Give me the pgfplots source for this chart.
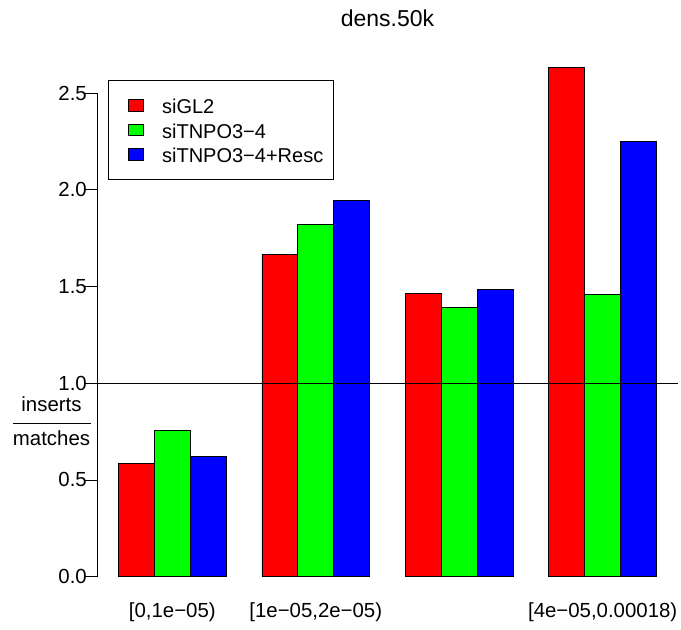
\documentclass[border=0pt]{standalone}
\usepackage{fontspec}
\setmainfont{Liberation Sans}
\usepackage{pgfplots}
\pgfplotsset{compat=1.18}
\newcommand{\fs}{\fontsize{20.4}{24}\selectfont}
\newcommand{\fl}{\fontsize{20}{24}\selectfont}
\begin{document}
\begin{tikzpicture}[x=1pt,y=1pt]
\path[use as bounding box] (0,0) rectangle (681,630);
\begin{axis}[
  at={(97pt,33pt)}, anchor=south west,
  scale only axis, width=581pt, height=550pt,
  xmin=0.4, xmax=16.6, ymin=-0.105, ymax=2.738,
  axis line style={draw=none},
  clip=false,
  ytick={0,0.5,1,1.5,2,2.5},
  yticklabels={0.0,0.5,1.0,1.5,2.0,2.5},
  ytick pos=left,
  tick align=outside, major tick length=12pt,
  ytick style={line width=0.8pt, black},
  xtick={2.5,6.5,14.5},
  xticklabels={{[0,1e−05)},{[1e−05,2e−05)},{[4e−05,0.00018)}},
  xtick pos=bottom,
  xtick style={draw=none},
  ticklabel style={font=\fs, inner sep=0pt},
  yticklabel style={xshift=2pt},
  xticklabel style={anchor=base, yshift=-8pt},
  legend style={at={(0.01893,0.94)}, anchor=north west, draw=black, line width=0.8pt, fill=white,
    inner xsep=10pt, inner ysep=16.5pt, row sep=7pt, column sep=18.4pt,
    font=\fl,
    nodes={inner sep=0pt, text height=17pt, text depth=0pt},
    cells={anchor=base west}},
  legend image code/.code={\path (0pt,0pt); \draw[#1, draw=black, line width=0.6pt] (9pt,2.8pt) rectangle (24.6pt,14.2pt);},
]
\addplot[ybar, bar width=1, bar shift=0pt, fill={rgb,255:red,255;green,0;blue,0}, draw=black, line width=0.8pt]
  coordinates {(1.5,0.587) (5.5,1.667) (9.5,1.462) (13.5,2.633)};
\addplot[ybar, bar width=1, bar shift=0pt, fill={rgb,255:red,0;green,255;blue,0}, draw=black, line width=0.8pt]
  coordinates {(2.5,0.756) (6.5,1.822) (10.5,1.393) (14.5,1.460)};
\addplot[ybar, bar width=1, bar shift=0pt, fill={rgb,255:red,0;green,0;blue,255}, draw=black, line width=0.8pt]
  coordinates {(3.5,0.623) (7.5,1.947) (11.5,1.486) (15.5,2.252)};
\addplot[black, line width=0.8pt, forget plot] coordinates {(0.4,1) (16.6,1)};
\draw[line width=0.8pt] (axis cs:0.4,0) -- (axis cs:0.4,2.5);
\legend{siGL2,siTNPO3−4,siTNPO3−4+Resc}
\end{axis}
\node[anchor=base, font=\fontsize{23}{26}\selectfont] at (387.5,603) {dens.50k};
\node[anchor=base, font=\fs] at (51.5,218) {inserts};
\draw[line width=0.8pt] (13,207) -- (91,207);
\node[anchor=base, font=\fs] at (51.5,184) {matches};
\end{tikzpicture}
\end{document}
